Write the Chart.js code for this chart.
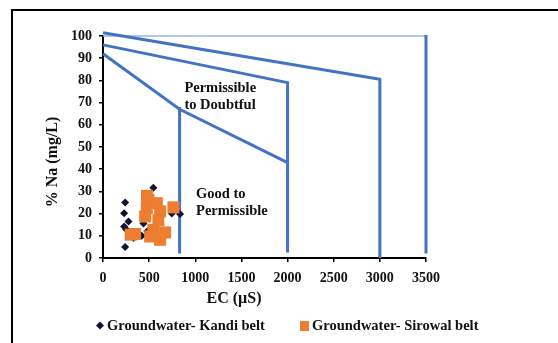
<!DOCTYPE html>
<html>
<head>
<meta charset="utf-8">
<script src="https://cdn.jsdelivr.net/npm/chart.js@4"></script>
<style>
  body { margin: 0; background: #fff; }
  #wrap { position: relative; width: 558px; height: 343px; overflow: hidden; }
  #frame { position: absolute; left: 11px; top: 9px; width: 700px; height: 500px; border-left: 2px solid #000; border-top: 2px solid #000; }
  #chart { position: absolute; left: 0; top: 0; }
</style>
</head>
<body>
<div id="wrap">
  <div id="frame"></div>
  <canvas id="chart" width="558" height="343"></canvas>
</div>
<script>
// ticks
const ecTicks = [0, 500, 1000, 1500, 2000, 2500, 3000, 3500];
const naTicks = [0, 10, 20, 30, 40, 50, 60, 70, 80, 90, 100];

// Kandi belt samples
const kandiEC = [546, 240, 229, 276, 229, 240, 438, 330, 835, 745, 420, 480, 300, 250];
const kandiNa = [31.7, 25, 20.2, 16.4, 14.2, 5, 15.5, 9, 19.8, 20, 10, 12, 10.5, 13];

// Sirowal belt samples
const sirowalEC = [492, 477, 583, 475, 619, 457, 348, 511, 619, 673, 763, 546, 300, 600];
const sirowalNa = [26.2, 28, 24.7, 22.5, 21, 18.7, 10.8, 9.7, 8.2, 11.5, 22.8, 12.7, 10.5, 17];

// classification boundaries (Wilcox)
const limitTopEC = [0, 3000, 3000];
const limitTopNa = [101.5, 80.5, 0];
const limitMidEC = [0, 2000, 2000];
const limitMidNa = [96, 79, 2.5];
const limitLowEC = [0, 830, 2000];
const limitLowNa = [92, 67, 43];
const limitGoodEC = [830, 830];
const limitGoodNa = [68, 2];
const limitEdgeEC = [3500, 3500];
const limitEdgeNa = [100.5, 2];
const limitCapEC = [0, 3500];
const limitCapNa = [100, 100];

const zoneLabels = [
  { lines: ["Permissible", "to Doubtful"], ec: 882, na: 76.5 },
  { lines: ["Good to", "Permissible"], ec: 1008, na: 28.9 }
];

function pts(xs, ys) {
  return xs.map(function (x, i) { return { x: x, y: ys[i] }; });
}

function boundary(xs, ys, color, width) {
  return {
    type: "line",
    data: pts(xs, ys),
    borderColor: color,
    borderWidth: width,
    pointRadius: 0,
    fill: false,
    tension: 0,
    clip: false
  };
}

const SERIF = "'Liberation Serif', 'Times New Roman', serif";

const customText = {
  id: "customText",
  afterDraw: function (chart) {
    const ctx = chart.ctx;
    const xs = chart.scales.x;
    const ys = chart.scales.y;
    ctx.save();
    ctx.fillStyle = "#111";

    // zone labels
    ctx.font = "bold 14.5px " + SERIF;
    ctx.textAlign = "left";
    ctx.textBaseline = "middle";
    zoneLabels.forEach(function (z) {
      const px = xs.getPixelForValue(z.ec);
      const py = ys.getPixelForValue(z.na);
      ctx.fillText(z.lines[0], px, py);
      ctx.fillText(z.lines[1], px, py + 17.5);
    });

    // axis titles
    ctx.font = "bold 16px " + SERIF;
    ctx.textAlign = "center";
    ctx.fillText("EC (µS)", 234, 299);
    ctx.save();
    ctx.translate(53, 162);
    ctx.rotate(-Math.PI / 2);
    ctx.fillText("% Na (mg/L)", 0, 0);
    ctx.restore();

    // legend
    ctx.font = "bold 14.5px " + SERIF;
    ctx.textAlign = "left";
    ctx.fillStyle = "#111133";
    ctx.beginPath();
    ctx.moveTo(100, 321.5); ctx.lineTo(104, 325.5); ctx.lineTo(100, 329.5); ctx.lineTo(96, 325.5);
    ctx.closePath();
    ctx.fill();
    ctx.fillStyle = "#111";
    ctx.fillText(chart.data.datasets[1].label, 107, 326);
    ctx.fillStyle = "#ED7D31";
    ctx.fillRect(300, 321, 9, 10);
    ctx.fillStyle = "#111";
    ctx.fillText(chart.data.datasets[0].label, 312, 326);
    ctx.restore();
  }
};

const ctx1 = document.getElementById("chart").getContext("2d");
new Chart(ctx1, {
  type: "scatter",
  data: {
    datasets: [
      {
        label: "Groundwater- Sirowal belt",
        data: pts(sirowalEC, sirowalNa),
        backgroundColor: "#ED7D31",
        borderColor: "#ED7D31",
        pointStyle: "rect",
        pointRadius: 8.5,
        borderWidth: 0,
        clip: false
      },
      {
        label: "Groundwater- Kandi belt",
        data: pts(kandiEC, kandiNa),
        backgroundColor: "#111133",
        borderColor: "#111133",
        pointStyle: "rectRot",
        pointRadius: 4,
        borderWidth: 0,
        clip: false
      },
      boundary(limitTopEC, limitTopNa, "#4472C4", 3),
      boundary(limitMidEC, limitMidNa, "#4472C4", 3),
      boundary(limitLowEC, limitLowNa, "#4472C4", 3),
      boundary(limitGoodEC, limitGoodNa, "#4472C4", 3),
      boundary(limitEdgeEC, limitEdgeNa, "#4472C4", 3),
      boundary(limitCapEC, limitCapNa, "#9DB4E2", 1.5)
    ]
  },
  options: {
    responsive: false,
    animation: false,
    layout: { padding: { left: 0, right: 132, top: 36, bottom: 0 } },
    plugins: {
      legend: { display: false },
      tooltip: { enabled: false }
    },
    scales: {
      x: {
        type: "linear",
        min: 0,
        max: 3500,
        afterBuildTicks: function (scale) {
          scale.ticks = ecTicks.map(function (v) { return { value: v }; });
        },
        afterFit: function (scale) { scale.height = 85; },
        grid: { display: true, drawOnChartArea: false, drawTicks: true, tickLength: 4, color: "#000", lineWidth: 1.5 },
        border: { display: true, color: "#000", width: 2 },
        ticks: {
          color: "#111", padding: 8, maxRotation: 0,
          font: { family: SERIF, size: 14, weight: "bold" },
          callback: function (v) { return String(v); }
        }
      },
      y: {
        type: "linear",
        min: 0,
        max: 100,
        afterBuildTicks: function (scale) {
          scale.ticks = naTicks.map(function (v) { return { value: v }; });
        },
        afterFit: function (scale) { scale.width = 103; },
        grid: { display: true, drawOnChartArea: false, drawTicks: true, tickLength: 4, color: "#000", lineWidth: 1.5 },
        border: { display: true, color: "#000", width: 2 },
        ticks: {
          color: "#111", padding: 7,
          font: { family: SERIF, size: 14, weight: "bold" },
          callback: function (v) { return String(v); }
        }
      }
    }
  },
  plugins: [customText]
});
</script>
</body>
</html>
